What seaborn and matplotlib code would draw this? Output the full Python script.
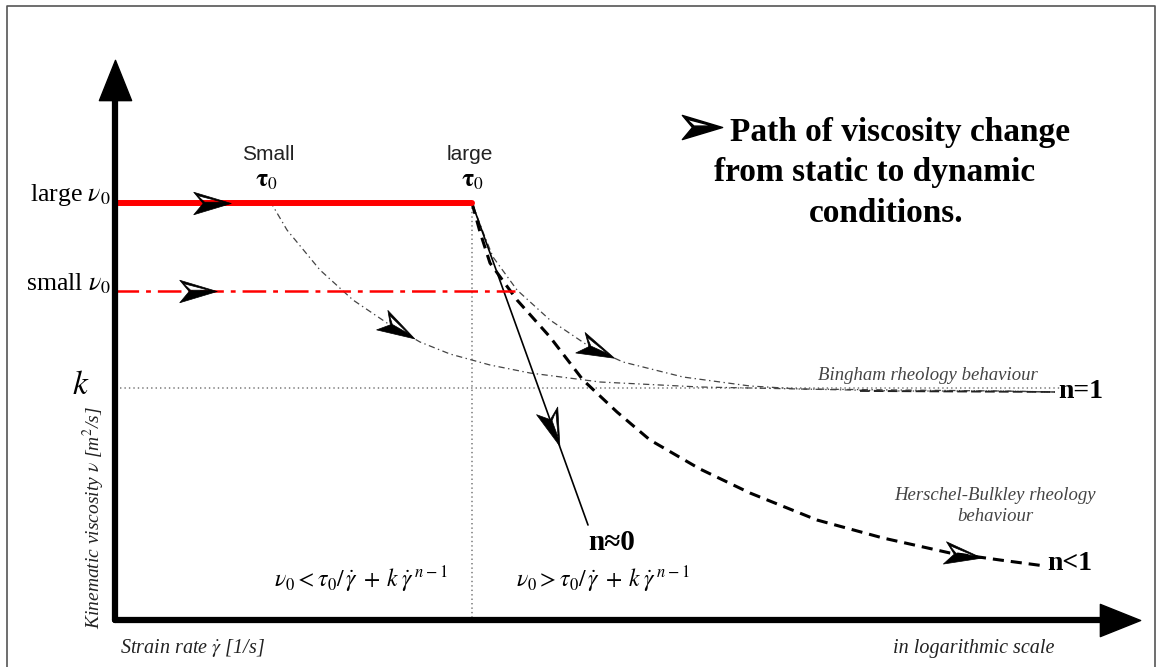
import numpy as np
import pandas as pd
import matplotlib
matplotlib.use("Agg")
import matplotlib.pyplot as plt
import seaborn as sns
from matplotlib.path import Path
from matplotlib.markers import MarkerStyle
from matplotlib.transforms import Affine2D

# ---------------- data (schematic, in canvas pixel units) ----------------
origin = (115, 620)
y_axis_top = 60
x_axis_end = 1140

large_v0_y = 203
small_v0_y = 291
k_y = 388
large_tau_x = 472
small_tau_x = 270

large_v0_x = [115, 472]
small_v0_x = [115, 515]
k_x = [120, 1060]

small_tau_curve_x = [270, 287, 320, 353, 387, 420, 450, 490, 530, 600, 700, 800, 900, 1000, 1055]
small_tau_curve_y = [201, 230, 270, 300, 323, 342, 354, 365, 373, 382, 387, 389, 390, 391, 392]

large_tau_curve_x = [472, 483, 493, 517, 550, 590, 623, 683, 750, 800, 900, 1000, 1055]
large_tau_curve_y = [203, 232, 257, 290, 320, 347, 362, 377, 386, 389, 391, 391, 392]

bingham_tail_x = [860, 1055]
bingham_tail_y = [391, 392]

hb_curve_x = [472, 480, 490, 517, 550, 583, 617, 650, 700, 750, 817, 883, 950, 1000, 1045]
hb_curve_y = [203, 232, 263, 300, 337, 380, 412, 440, 469, 493, 520, 538, 553, 560, 566]

n0_line_x = [472, 588]
n0_line_y = [203, 525]

arrow_on_large_v0_x = 212
arrow_on_small_v0_x = 198
arrow_on_small_tau_x = 398
arrow_on_large_tau_x = 597
arrow_on_n0_x = 553
arrow_on_hb_x = 963
legend_arrow_xy = (702, 127)

title_lines = ["Path of viscosity change", "from static to dynamic", "conditions."]

# ---------------- style ----------------
sns.set_theme(style="white")
plt.rcParams['font.family'] = ['Liberation Serif', 'DejaVu Serif']
plt.rcParams['mathtext.fontset'] = 'stix'
plt.rcParams['lines.scale_dashes'] = False
plt.rcParams['text.color'] = 'black'

W, H = 1162, 667
fig = plt.figure(figsize=(W / 100, H / 100), dpi=100)
ax = fig.add_axes([0, 0, 1, 1])
ax.set_xlim(0, W)
ax.set_ylim(H, 0)
ax.axis('off')


def line(xs, ys, **kw):
    df = pd.DataFrame({"x": xs, "y": ys})
    sns.lineplot(data=df, x="x", y="y", sort=False, estimator=None, ax=ax, **kw)


def stealth(angle):
    verts = [(1, 0), (-1, 0.6), (-0.5, 0), (-1, -0.6), (1, 0),
             (0.55, 0.07), (-0.42, 0.07), (-0.8, 0.42), (0.55, 0.07)]
    codes = [Path.MOVETO, Path.LINETO, Path.LINETO, Path.LINETO, Path.CLOSEPOLY,
             Path.MOVETO, Path.LINETO, Path.LINETO, Path.CLOSEPOLY]
    return MarkerStyle(Path(verts, codes), transform=Affine2D().rotate_deg(angle))


def tri(angle):
    verts = [(1, 0), (-1, 0.8), (-1, -0.8), (1, 0)]
    codes = [Path.MOVETO, Path.LINETO, Path.LINETO, Path.CLOSEPOLY]
    return MarkerStyle(Path(verts, codes), transform=Affine2D().rotate_deg(angle))


def arrow_on(xs, ys, x0, size=27):
    xs = np.asarray(xs, float)
    ys = np.asarray(ys, float)
    y0 = np.interp(x0, xs, ys)
    y1 = np.interp(x0 - 4, xs, ys)
    y2 = np.interp(x0 + 4, xs, ys)
    ang = np.degrees(np.arctan2(-(y2 - y1), 8))
    ax.plot([x0], [y0], marker=stealth(ang), ms=size, color='black',
            mec='black', mew=0.5, ls='none', zorder=6)


# frame
ax.plot([7, 7, 1155, 1155], [H, 6, 6, H], color='#555555', lw=1.2, zorder=1)

# axes
line([origin[0], origin[0]], [origin[1], y_axis_top + 30], color='black', lw=4.5, zorder=5)
line([origin[0], x_axis_end - 30], [origin[1], origin[1]], color='black', lw=4.5, zorder=5)
ax.plot([origin[0]], [y_axis_top + 20], marker=tri(90), ms=29, color='black', ls='none', zorder=5)
ax.plot([x_axis_end - 20], [origin[1]], marker=tri(0), ms=29, color='black', ls='none', zorder=5)

# reference dotted lines
line(k_x, [k_y, k_y], color='#777777', lw=1.1, dashes=(1, 2.2), zorder=2)
line([large_tau_x, large_tau_x], [large_v0_y, origin[1]], color='#777777', lw=1.1, dashes=(1, 2.2), zorder=2)

# red v0 lines
line(large_v0_x, [large_v0_y, large_v0_y], color='#ff0000', lw=4.3, zorder=4)
line(small_v0_x, [small_v0_y, small_v0_y], color='#ff0000', lw=1.8,
     dashes=(17, 5, 3.5, 5), zorder=4)

# curves
line(small_tau_curve_x, small_tau_curve_y, color='#444444', lw=0.9, dashes=(4.5, 2.5, 1, 2.5), zorder=3)
line(large_tau_curve_x, large_tau_curve_y, color='#444444', lw=0.9, dashes=(4.5, 2.5, 1, 2.5), zorder=3)
line(bingham_tail_x, bingham_tail_y, color='#222222', lw=1.3, dashes=(7, 3), zorder=3)
line(hb_curve_x, hb_curve_y, color='black', lw=2.2, dashes=(8, 5), zorder=3)
line(n0_line_x, n0_line_y, color='black', lw=1.2, zorder=3)

# path arrows
arrow_on(large_v0_x, [large_v0_y, large_v0_y], arrow_on_large_v0_x)
arrow_on(small_v0_x, [small_v0_y, small_v0_y], arrow_on_small_v0_x)
arrow_on(small_tau_curve_x, small_tau_curve_y, arrow_on_small_tau_x)
arrow_on(large_tau_curve_x, large_tau_curve_y, arrow_on_large_tau_x)
arrow_on(n0_line_x, n0_line_y, arrow_on_n0_x)
arrow_on(hb_curve_x, hb_curve_y, arrow_on_hb_x)
ax.plot([legend_arrow_xy[0]], [legend_arrow_xy[1]], marker=stealth(0), ms=29,
        color='black', ls='none', zorder=6)

# ---------------- texts ----------------
ax.text(111, 195, r"large $\nu_{0}$", ha='right', va='center', fontsize=18.5)
ax.text(111, 284, r"small $\nu_{0}$", ha='right', va='center', fontsize=18.5)
ax.text(81, 386, r"$k$", ha='center', va='center', fontsize=24)
ax.text(94, 518, r"Kinematic viscosity $\nu$ [m$^2$/s]", ha='center', va='center',
        rotation=90, fontsize=14, style='italic', color='#222222')
ax.text(120, 648, r"Strain rate $\dot{\gamma}$ [1/s]", ha='left', va='center',
        fontsize=14.5, style='italic', color='#222222')
ax.text(893, 648, "in logarithmic scale", ha='left', va='center',
        fontsize=14.5, style='italic', color='#222222')

sans = ['Liberation Sans', 'DejaVu Sans']
ax.text(small_tau_x - 2, 155, "Small", ha='center', va='center', fontsize=15,
        family=sans, color='#222222')
ax.text(small_tau_x - 4, 181, r"$\mathbf{\tau}_0$", ha='center', va='center', fontsize=18)
ax.text(large_tau_x - 2, 155, "large", ha='center', va='center', fontsize=15,
        family=sans, color='#222222')
ax.text(large_tau_x, 181, r"$\mathbf{\tau}_0$", ha='center', va='center', fontsize=18)

ax.text(730, 132, title_lines[0], ha='left', va='center', fontsize=24, fontweight='bold')
ax.text(875, 173, title_lines[1], ha='center', va='center', fontsize=24, fontweight='bold')
ax.text(886, 213, title_lines[2], ha='center', va='center', fontsize=24, fontweight='bold')

ax.text(928, 375, "Bingham rheology behaviour", ha='center', va='center',
        fontsize=13.5, style='italic', color='#444444')
ax.text(1058, 392, "n=1", ha='left', va='center', fontsize=20, fontweight='bold')
ax.text(995, 506, "Herschel-Bulkley rheology\nbehaviour", ha='center', va='center',
        fontsize=13.5, style='italic', color='#444444', linespacing=1.25)
ax.text(1047, 564, "n<1", ha='left', va='center', fontsize=20, fontweight='bold')
ax.text(588, 543, "n\u22480", ha='left', va='center', fontsize=21, fontweight='bold')

ax.text(361, 580, r"$\nu_0 < \tau_0/\,\dot{\gamma}\;+\,k\;\dot{\gamma}^{\;n-1}$",
        ha='center', va='center', fontsize=17)
ax.text(603, 580, r"$\nu_0 > \tau_0/\,\dot{\gamma}\;+\,k\;\dot{\gamma}^{\;n-1}$",
        ha='center', va='center', fontsize=17)

fig.savefig("out.png", dpi=100)
